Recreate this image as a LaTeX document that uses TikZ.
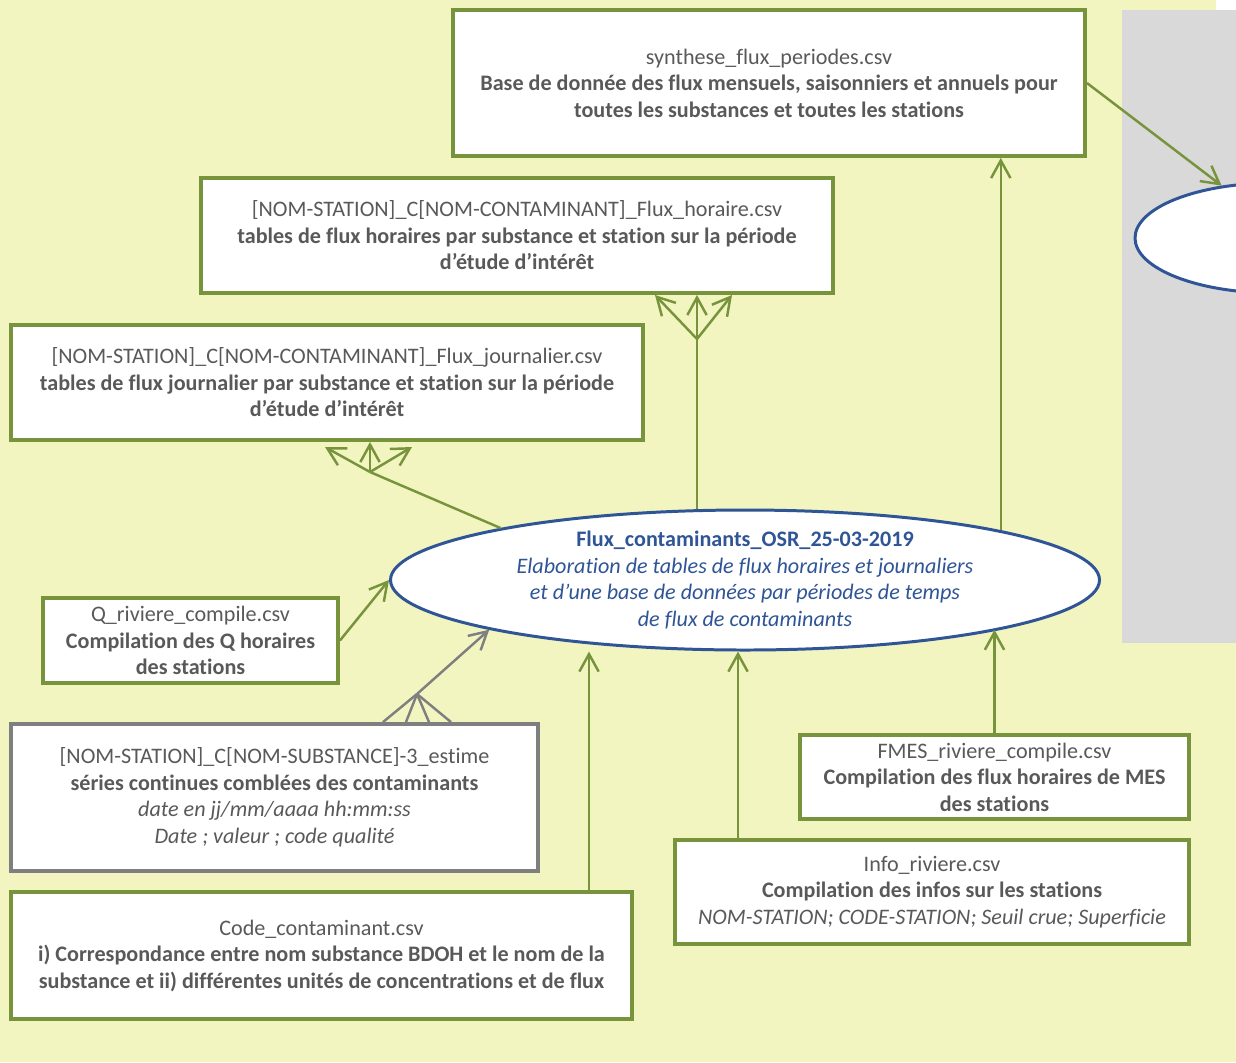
\documentclass[tikz,border=0pt]{standalone}
\usepackage{fontspec}
\setmainfont{Carlito}[Ligatures=NoCommon]
\usetikzlibrary{arrows.meta,shapes.geometric}
\definecolor{bgyel}{RGB}{242,245,192}
\definecolor{olive}{RGB}{119,147,60}
\definecolor{txtgray}{RGB}{89,89,89}
\definecolor{ellblue}{RGB}{47,85,151}
\definecolor{boxgray}{RGB}{127,127,127}
\definecolor{panelgray}{RGB}{217,217,217}
\tikzset{
  txt/.style={font=\fontsize{12.6}{15.1}\selectfont},
  box/.style={txt, draw=olive, line width=2.2pt, fill=white, inner sep=0pt, align=center, text=txtgray},
  gbox/.style={box, draw=boxgray},
  sz/.style 2 args={minimum width=#1*0.02cm, minimum height=#2*0.02cm},
  ellnode/.style={txt, ellipse, draw=ellblue, line width=1.7pt, fill=white, inner sep=0pt, align=center, text=ellblue},
  conn/.style={draw=olive, line width=1.4pt},
  arr/.style={conn, -{Straight Barb[length=10pt,width=11pt]}},
  gconn/.style={conn, draw=boxgray},
  garr/.style={arr, draw=boxgray}
}
\begin{document}
\begin{tikzpicture}[x=0.02cm,y=-0.02cm]
\useasboundingbox (0,0) rectangle (1236,1062);
\fill[bgyel] (0,0) rectangle (1236,1062);
\fill[white] (1216,0) rectangle (1236,10);
\fill[panelgray] (1122,10) rectangle (1236,643);
\begin{scope}
  \clip (0,0) rectangle (1236,1062);
  \node[ellnode, sz={278}{110}] (rell) at (1274,238) {};
\end{scope}

\node[ellnode, sz={709}{140}] (ell) at (745,580)
  {\textbf{Flux\_contaminants\_OSR\_25-03-2019}\\
   \textit{Elaboration de tables de flux horaires et journaliers}\\
   \textit{et d’une base de données par périodes de temps}\\
   \textit{de flux de contaminants}};

\node[box, sz={632}{146}] (synth) at (769,83)
  {synthese\_flux\_periodes.csv\\
   \textbf{Base de donnée des flux mensuels, saisonniers et annuels pour}\\
   \textbf{toutes les substances et toutes les stations}};
\node[box, sz={632}{115}] (hor) at (517,235.5)
  {{[}NOM-STATION{]}\_C{[}NOM-CONTAMINANT{]}\_Flux\_horaire.csv\\
   \textbf{tables de flux horaires par substance et station sur la période}\\
   \textbf{d’étude d’intérêt}};
\node[box, sz={632}{115}] (jour) at (327,382.5)
  {{[}NOM-STATION{]}\_C{[}NOM-CONTAMINANT{]}\_Flux\_journalier.csv\\
   \textbf{tables de flux journalier par substance et station sur la période}\\
   \textbf{d’étude d’intérêt}};
\node[box, sz={295}{85}] (q) at (190.5,640.5)
  {Q\_riviere\_compile.csv\\
   \textbf{Compilation des Q horaires}\\
   \textbf{des stations}};
\node[gbox, sz={527}{147}] (subst) at (274.5,797.5)
  {{[}NOM-STATION{]}\_C{[}NOM-SUBSTANCE{]}-3\_estime\\
   \textbf{séries continues comblées des contaminants}\\
   \textit{date en jj/mm/aaaa hh:mm:ss}\\
   \textit{Date ; valeur ; code qualité}};
\node[box, sz={621}{127}] (code) at (321.5,955.5)
  {Code\_contaminant.csv\\
   \textbf{i) Correspondance entre nom substance BDOH et le nom de la}\\
   \textbf{substance et ii) différentes unités de concentrations et de flux}};
\node[box, sz={389}{84}] (fmes) at (994.5,777)
  {FMES\_riviere\_compile.csv\\
   \textbf{Compilation des flux horaires de MES}\\
   \textbf{des stations}};
\node[box, sz={514}{104}] (info) at (932,892)
  {Info\_riviere.csv\\
   \textbf{Compilation des infos sur les stations}\\
   \textit{NOM-STATION; CODE-STATION; Seuil crue; Superficie}};

% synthese -> right ellipse
\draw[arr] (synth.east) -- (rell.135.6);
% ellipse -> synthese
\draw[arr] (ell.11.3) -- (ell.11.3 |- synth.south);
% ellipse -> horaire (fork)
\coordinate (fh) at (697,339);
\coordinate (hL) at (655,295);
\coordinate (hR) at (732,295);
\draw[conn] (fh |- ell.north) -- (fh);
\draw[arr] (fh) -- (hL);
\draw[arr] (fh) -- (fh |- hor.south);
\draw[arr] (fh) -- (hR);
% ellipse -> journalier (fork)
\coordinate (fj) at (370,472);
\coordinate (jL) at (325,447);
\coordinate (jR) at (412,447);
\draw[conn] (ell.168.8) -- (fj);
\draw[arr] (fj) -- (jL);
\draw[arr] (fj) -- (fj |- jour.south);
\draw[arr] (fj) -- (jR);
% Q -> ellipse
\draw[arr] (q.east) -- (ell.west);
% substance (gray fork) -> ellipse
\coordinate (fg) at (417,694);
\foreach \gx in {383,406,429,451} {
  \coordinate (gp) at (\gx,0);
  \draw[gconn] (gp |- subst.north) -- (fg);
}
\draw[garr] (fg) -- (ell.191.7);
% code -> ellipse
\coordinate (cc) at (589,0);
\draw[arr] (cc |- code.north) -- (cc |- ell.south);
% info -> ellipse
\coordinate (ic) at (738,0);
\draw[arr] (ic |- info.north) -- (ic |- ell.south);
% FMES -> ellipse
\draw[arr] (fmes.north) -- (fmes.north |- ell.-11.3);
\end{tikzpicture}
\end{document}
